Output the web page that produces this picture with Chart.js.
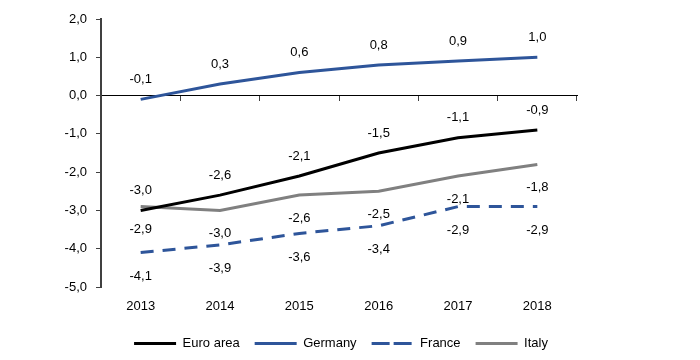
<!DOCTYPE html>
<html>
<head>
<meta charset="utf-8">
<script src="https://cdn.jsdelivr.net/npm/chart.js@4.4.0/dist/chart.umd.min.js"></script>
<style>
  html, body { margin: 0; padding: 0; background: #fff; }
  #wrap { width: 700px; height: 360px; }
</style>
</head>
<body>
<div id="wrap"><canvas id="c" width="700" height="360"></canvas></div>
<script>
const categories = ['2013', '2014', '2015', '2016', '2017', '2018'];
const euroArea = [-3.0, -2.6, -2.1, -1.5, -1.1, -0.9];
const germany  = [-0.1, 0.3, 0.6, 0.8, 0.9, 1.0];
const france   = [-4.1, -3.9, -3.6, -3.4, -2.9, -2.9];
const italy    = [-2.9, -3.0, -2.6, -2.5, -2.1, -1.8];
const yTicks   = [2, 1, 0, -1, -2, -3, -4, -5];

const FONT = 'Liberation Sans, Arial, sans-serif';
const fmt = v => v.toFixed(1).replace('.', ',');

const labelOffsets = [-20, -20, 24, 23];

const dataLabels = {
  id: 'dataLabels',
  afterDatasetsDraw(chart) {
    const ctx = chart.ctx;
    ctx.save();
    ctx.font = '13px ' + FONT;
    ctx.fillStyle = '#000';
    ctx.textAlign = 'center';
    ctx.textBaseline = 'middle';
    chart.data.datasets.forEach((ds, i) => {
      const meta = chart.getDatasetMeta(i);
      meta.data.forEach((pt, j) => {
        ctx.fillText(fmt(ds.data[j]), pt.x, pt.y + labelOffsets[i]);
      });
    });
    ctx.restore();
  }
};

new Chart(document.getElementById('c'), {
  type: 'line',
  data: {
    labels: categories,
    datasets: [
      { label: 'Euro area', data: euroArea, borderColor: '#000000', backgroundColor: '#000000', borderWidth: 3, pointRadius: 0, tension: 0 },
      { label: 'Germany', data: germany, borderColor: '#2E559A', backgroundColor: '#2E559A', borderWidth: 3, pointRadius: 0, tension: 0 },
      { label: 'France', data: france, borderColor: '#2E559A', backgroundColor: '#2E559A', borderWidth: 3, borderDash: [13, 9], pointRadius: 0, tension: 0 },
      { label: 'Italy', data: italy, borderColor: '#808080', backgroundColor: '#808080', borderWidth: 3, pointRadius: 0, tension: 0 }
    ]
  },
  options: {
    responsive: false,
    animation: false,
    layout: { padding: { left: 0, right: 18, top: 19, bottom: 0 } },
    plugins: {
      legend: {
        position: 'bottom',
        labels: {
          boxWidth: 42, boxHeight: 0, padding: 15,
          color: '#000', font: { family: FONT, size: 13 }
        }
      },
      tooltip: { enabled: false }
    },
    scales: {
      x: {
        type: 'category',
        offset: true,
        position: 'bottom',
        afterFit(scale) { scale.height = 35; },
        grid: { display: false },
        border: { display: false },
        ticks: { color: '#000', font: { family: FONT, size: 13 }, padding: 4, maxRotation: 0 }
      },
      x2: {
        type: 'category',
        labels: categories,
        offset: true,
        position: { y: 0 },
        grid: { display: true, drawOnChartArea: false, drawTicks: true, tickLength: 5, offset: true, color: '#404040', lineWidth: 1 },
        border: { display: true, color: '#000000', width: 1 },
        ticks: { display: false }
      },
      y: {
        type: 'linear',
        position: 'left',
        min: -5, max: 2,
        afterBuildTicks(scale) { scale.ticks = yTicks.map(v => ({ value: v })); },
        afterFit(scale) { scale.width = 101; },
        grid: { display: true, drawOnChartArea: false, drawTicks: true, tickLength: 5, color: '#404040', lineWidth: 1 },
        border: { display: true, color: '#404040', width: 2 },
        ticks: { color: '#000', font: { family: FONT, size: 13 }, padding: 9, callback: v => fmt(v) }
      },
      yR: {
        type: 'linear',
        position: 'right',
        min: -5, max: 2,
        afterFit(scale) { scale.width = 105; },
        grid: { display: false },
        border: { display: false },
        ticks: { display: false }
      }
    }
  },
  plugins: [dataLabels]
});
</script>
</body>
</html>
